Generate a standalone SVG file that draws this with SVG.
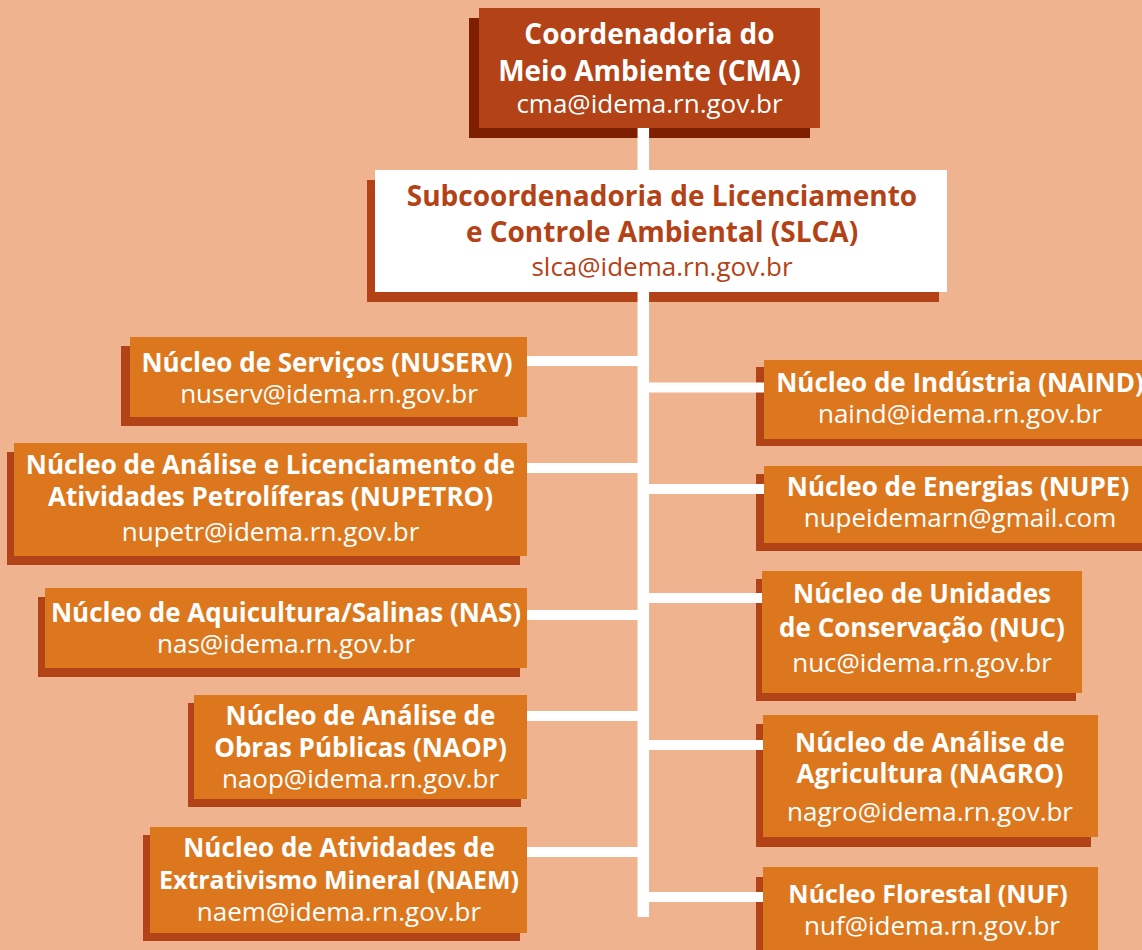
<svg xmlns="http://www.w3.org/2000/svg" width="1142" height="950" viewBox="0 0 1142 950">
<defs>
<style>
.bg{fill:#EFB48F}
.sh{fill:#B24316}
.box{fill:#DD771E}
.t{font-family:"Open Sans","Noto Sans","DejaVu Sans",sans-serif;font-weight:700;font-size:26px;fill:#FFFFFF;text-anchor:middle}
.e{font-family:"Open Sans","Noto Sans","DejaVu Sans",sans-serif;font-weight:400;font-size:26px;fill:#FFFFFF;text-anchor:middle}
.big{font-size:28px}
.sm{font-size:25px}
.red{fill:#B34216}
.ln{stroke:#FFFFFF;fill:none}
</style>
</defs>
<rect class="bg" x="0" y="0" width="1142" height="950"/>

<g id="cma">
<rect x="469" y="18" width="341" height="120" fill="#7D1F00"/>
<rect x="479" y="8" width="341" height="120" fill="#B34216"/>
<text class="t big" x="649.5" y="44">Coordenadoria do</text>
<text class="t big" x="649.5" y="81">Meio Ambiente (CMA)</text>
<text class="e" x="649.5" y="113">cma@idema.rn.gov.br</text>
</g>

<g id="slca">
<rect x="367" y="180" width="572" height="122" fill="#B34216"/>
<rect x="375" y="170" width="572" height="122" fill="#FFFFFF"/>
<text class="t big red" x="662" y="206">Subcoordenadoria de Licenciamento</text>
<text class="t big red" x="662" y="242">e Controle Ambiental (SLCA)</text>
<text class="e red" x="662" y="276">slca@idema.rn.gov.br</text>
</g>

<g id="nuserv">
<rect class="sh" x="121" y="346" width="397" height="80"/>
<rect class="box" x="130" y="337" width="397" height="80"/>
<text class="t" x="327" y="372">Núcleo de Serviços (NUSERV)</text>
<text class="e" x="329" y="403">nuserv@idema.rn.gov.br</text>
</g>

<g id="nupetro">
<rect class="sh" x="7" y="452" width="513" height="113"/>
<rect class="box" x="14" y="443" width="513" height="113"/>
<text class="t" x="270.5" y="474">Núcleo de Análise e Licenciamento de</text>
<text class="t" x="270.5" y="506">Atividades Petrolíferas (NUPETRO)</text>
<text class="e" x="270.5" y="541">nupetr@idema.rn.gov.br</text>
</g>

<g id="nas">
<rect class="sh" x="38" y="597" width="482" height="80"/>
<rect class="box" x="45" y="588" width="482" height="80"/>
<text class="t" x="286" y="622">Núcleo de Aquicultura/Salinas (NAS)</text>
<text class="e" x="286" y="653">nas@idema.rn.gov.br</text>
</g>

<g id="naop">
<rect class="sh" x="188" y="703" width="333" height="104"/>
<rect class="box" x="194" y="695" width="333" height="104"/>
<text class="t" x="360.5" y="725">Núcleo de Análise de</text>
<text class="t" x="360.5" y="757">Obras Públicas (NAOP)</text>
<text class="e" x="360.5" y="788">naop@idema.rn.gov.br</text>
</g>

<g id="naem">
<rect class="sh" x="143" y="835" width="377" height="106"/>
<rect class="box" x="150" y="827" width="377" height="106"/>
<text class="t" x="339" y="857">Núcleo de Atividades de</text>
<text class="t sm" x="339" y="889">Extrativismo Mineral (NAEM)</text>
<text class="e" x="339" y="921">naem@idema.rn.gov.br</text>
</g>

<g id="naind">
<rect class="sh" x="756" y="367" width="400" height="79"/>
<rect class="box" x="764" y="360" width="400" height="79"/>
<text class="t" x="960" y="392">Núcleo de Indústria (NAIND)</text>
<text class="e" x="960" y="423">naind@idema.rn.gov.br</text>
</g>

<g id="nupe">
<rect class="sh" x="756" y="474" width="400" height="77"/>
<rect class="box" x="764" y="466" width="400" height="77"/>
<text class="t" x="958" y="496">Núcleo de Energias (NUPE)</text>
<text class="e" x="960" y="527">nupeidemarn@gmail.com</text>
</g>

<g id="nuc">
<rect class="sh" x="756" y="579" width="320" height="122"/>
<rect class="box" x="762" y="571" width="320" height="122"/>
<text class="t" x="922" y="603">Núcleo de Unidades</text>
<text class="t" x="922" y="637">de Conservação (NUC)</text>
<text class="e" x="922" y="672">nuc@idema.rn.gov.br</text>
</g>

<g id="nagro">
<rect class="sh" x="756" y="724" width="335" height="123"/>
<rect class="box" x="763" y="715" width="335" height="122"/>
<text class="t" x="930" y="752">Núcleo de Análise de</text>
<text class="t" x="930" y="783">Agricultura (NAGRO)</text>
<text class="e" x="930" y="821">nagro@idema.rn.gov.br</text>
</g>

<g id="nuf">
<rect class="sh" x="756" y="877" width="335" height="90"/>
<rect class="box" x="763" y="867" width="335" height="90"/>
<text class="t sm" x="928" y="903">Núcleo Florestal (NUF)</text>
<text class="e" x="932" y="935">nuf@idema.rn.gov.br</text>
</g>

<g id="connectors" class="ln">
<line x1="643.3" y1="128" x2="643.3" y2="170" stroke-width="11.5"/>
<line x1="643.3" y1="292" x2="643.3" y2="917" stroke-width="11.5"/>
<line x1="527" y1="361" x2="643" y2="361" stroke-width="10"/>
<line x1="527" y1="468" x2="643" y2="468" stroke-width="10"/>
<line x1="527" y1="615" x2="643" y2="615" stroke-width="10"/>
<line x1="527" y1="716" x2="643" y2="716" stroke-width="10"/>
<line x1="527" y1="852" x2="643" y2="852" stroke-width="10"/>
<line x1="643" y1="387.5" x2="764" y2="387.5" stroke-width="10"/>
<line x1="643" y1="489" x2="764" y2="489" stroke-width="10"/>
<line x1="643" y1="598" x2="762" y2="598" stroke-width="10"/>
<line x1="643" y1="745" x2="763" y2="745" stroke-width="10"/>
<line x1="643" y1="897" x2="763" y2="897" stroke-width="10"/>
</g>
</svg>
